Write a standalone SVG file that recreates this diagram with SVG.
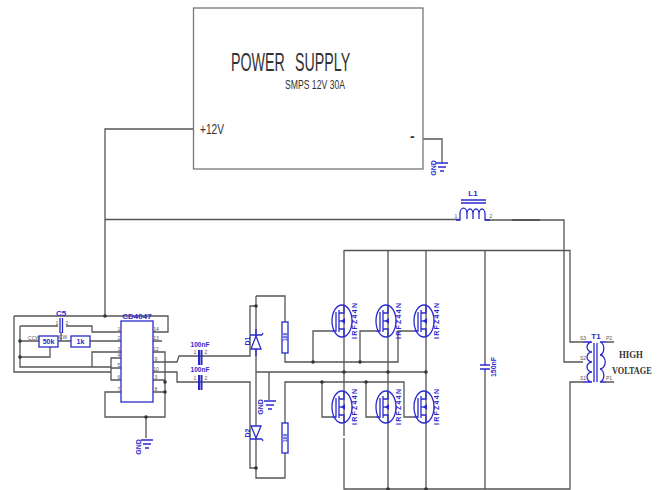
<svg xmlns="http://www.w3.org/2000/svg" xmlns:xlink="http://www.w3.org/1999/xlink" width="662" height="490" viewBox="0 0 662 490">
<style>
.w{fill:none;stroke:#555;stroke-width:1.3}
.b{fill:none;stroke:#2a2acb;stroke-width:1.3}
.bw{fill:#fff;stroke:#2a2acb;stroke-width:1.3}
.d{fill:#333}
text{font-family:"Liberation Sans",Arial,sans-serif}
.lbl{fill:#2a2acb;font-size:7px;font-weight:bold;text-anchor:middle}
.pin{fill:#555;font-size:5px;text-anchor:middle}
.k{fill:#333}
.hv{font-family:"Liberation Serif","Times New Roman",serif;font-weight:bold;font-size:11px;fill:#333}
</style>
<defs>
<g id="mos">
<ellipse class="b" cx="0" cy="0" rx="10" ry="16"/>
<path class="b" d="M-10 10H-6V-9M-3 -11V11M-3 -8H2V-16M-3 8H2V16"/>
<path d="M3 -3L-1 0L3 3Z" fill="#2a2acb"/><path class="b" d="M-3 0H2"/>
</g>
<g id="gnd"><path class="b" d="M-6 0H6M-4 4H4M-2 8H2"/></g>
</defs>
<rect width="662" height="490" fill="#fff"/>

<g id="connectors">
<path class="w" d="M193 129H105V317"/>
<path class="w" d="M423 139H442V163"/>
<path class="w" d="M105 219.500H460M485 220H564V362H583"/>
<path class="w" style="stroke-width:2" d="M512 220H540"/>
<path class="w" d="M344 250.500H570V342H583"/>
<path class="w" d="M583 382H570V489H344V438M344 250V436M388 250V489M426 250V489"/>
<path class="w" d="M485 250V362M485 372V489"/>
<path class="w" d="M14 316H168V332H153M14 316V372H111M20 326H58M66 326H92V332H121"/>
<path class="w" d="M20 326V367H111V358H121M111 367V380H121M111 368H121"/>
<path class="w" d="M20 341H39M20 357H50V347M58 341H71M61 332V341M90 341H121M121 352H92V367"/>
<path class="w" d="M153 341H162M153 352H165V417H105V392H121M153 380H165M153 392H165M146 417V438"/>
<path class="w" d="M153 362H177L179 356H250V306H256M153 372H177V382H250V468H256"/>
<path class="w" d="M256 296H285V322M285 353V362H398V331H414M313 362V331H332M360 362V331H376"/>
<path class="w" d="M256 296V478H285V453M285 423V382H404V417H414M322 382V417H332M366 382V417H376"/>
<path class="w" d="M256 372H426M269 372V400"/>
<g class="d">
<circle cx="105" cy="316" r="1.800"/><circle cx="20" cy="341" r="1.800"/><circle cx="20" cy="357" r="1.800"/>
<circle cx="165" cy="382" r="1.800"/><circle cx="165" cy="392" r="1.800"/><circle cx="146" cy="417" r="1.800"/>
<circle cx="313" cy="362" r="1.800"/><circle cx="360" cy="362" r="1.800"/><circle cx="344" cy="372" r="1.800"/><circle cx="388" cy="372" r="1.800"/><circle cx="426" cy="372" r="1.800"/>
<circle cx="322" cy="382" r="1.800"/><circle cx="366" cy="382" r="1.800"/><circle cx="256" cy="306" r="1.800"/><circle cx="256" cy="468" r="1.800"/>
<circle cx="388" cy="489" r="1.800"/><circle cx="426" cy="489" r="1.800"/>
</g>
</g>

<g id="power-supply">
<rect x="193.500" y="8" width="229.500" height="161" fill="#fff" stroke="#777" stroke-width="1.300"/>
<text class="k" font-size="25" word-spacing="11" transform="translate(231 71) scale(.57 1)">POWER SUPPLY</text>
<text class="k" x="285" y="89" font-size="13" textLength="60" lengthAdjust="spacingAndGlyphs">SMPS 12V 30A</text>
<text class="k" x="200" y="134" font-size="15" textLength="24" lengthAdjust="spacingAndGlyphs">+12V</text>
<text class="k" x="410" y="141" font-size="14" font-weight="bold">-</text>
</g>
<g id="gnd-supply">
<use xlink:href="#gnd" href="#gnd" x="442" y="163"/>
<text class="lbl" transform="translate(436 168) rotate(-90)">GND</text>
</g>
<g id="L1">
<path class="b" d="M461 200H486M461 203H486"/>
<path class="b" d="M456 220H460V214A3 5 0 0 1 467 214V219V214A3 5 0 0 1 473 214V219V214A3 5 0 0 1 479 214V219V214A3 5 0 0 1 485 214V220H490"/>
<text class="lbl" x="473" y="196" style="font-size:8px">L1</text>
<text class="pin" x="456" y="218">1</text><text class="pin" x="491" y="218">2</text>
</g>
<g id="C5">
<path class="b" d="M60 318V333M62.500 318V333"/>
<text class="lbl" x="61" y="316" style="font-size:8px">C5</text>
<text class="pin" x="57" y="325">1</text><text class="pin" x="67" y="325">2</text>
</g>
<g id="R-50k">
<rect class="bw" x="39" y="336" width="19" height="11"/>
<text class="lbl" x="48.500" y="344">50k</text>
<text class="pin" x="34" y="340">CCW</text><text class="pin" x="63" y="339">CW</text>
</g>
<g id="R-1k">
<rect class="bw" x="71" y="336" width="19" height="11"/>
<text class="lbl" x="80.500" y="344">1k</text>
</g>
<g id="CD4047">
<rect class="bw" x="121" y="321" width="32" height="81"/>
<text class="lbl" x="137" y="319" style="font-size:8px">CD4047</text>
<g class="pin">
<text x="119" y="331">1</text><text x="119" y="340">2</text><text x="119" y="351">3</text><text x="119" y="357">4</text><text x="119" y="367">5</text><text x="119" y="379">6</text><text x="119" y="391">7</text>
<text x="156" y="331">14</text><text x="156" y="340">13</text><text x="156" y="351">12</text><text x="156" y="361">9</text><text x="156" y="371">10</text><text x="156" y="379">3</text><text x="156" y="391">8</text>
</g>
</g>
<g id="gnd-ic">
<use xlink:href="#gnd" href="#gnd" x="147" y="440"/>
<text class="lbl" transform="translate(141 447) rotate(-90)">GND</text>
</g>
<g id="C-100nF-1">
<path class="b" style="stroke-width:2" d="M199 350V365M201.500 350V365"/>
<text class="lbl" x="200" y="347" style="font-size:6.500px">100nF</text>
<text class="pin" x="195" y="354">1</text><text class="pin" x="206" y="354">2</text>
</g>
<g id="C-100nF-2">
<path class="b" style="stroke-width:2" d="M199 375V390M201.500 375V390"/>
<text class="lbl" x="200" y="372" style="font-size:6.500px">100nF</text>
<text class="pin" x="195" y="380">1</text><text class="pin" x="206" y="380">2</text>
</g>
<g id="D1">
<path class="bw" d="M256 336L251 349H261Z"/><path class="b" d="M250 335H262M262 335L263 333M256 329V336M256 349V356"/>
<text class="lbl" transform="translate(250 341) rotate(-90)">D1</text>
</g>
<g id="D2">
<path class="bw" d="M256 438L251 426H261Z"/><path class="b" d="M250 439H262M262 439L263 441"/>
<text class="lbl" transform="translate(250 433) rotate(-90)">D2</text>
</g>
<g id="R-100-1">
<rect class="bw" x="282" y="322" width="6" height="31"/>
<text class="lbl" style="font-size:5px" transform="translate(287 337) rotate(-90)">100</text>
</g>
<g id="R-100-2">
<rect class="bw" x="282" y="423" width="6" height="30"/>
<text class="lbl" style="font-size:5px" transform="translate(287 438) rotate(-90)">100</text>
</g>
<g id="gnd-mid">
<use xlink:href="#gnd" href="#gnd" x="270" y="401"/>
<text class="lbl" transform="translate(263 407) rotate(-90)">GND</text>
</g>
<g id="Q1"><use xlink:href="#mos" href="#mos" x="342" y="321"/><text class="lbl" textLength="36" transform="translate(357 321) rotate(-90)">IRFZ44N</text></g>
<g id="Q2"><use xlink:href="#mos" href="#mos" x="386" y="321"/><text class="lbl" textLength="36" transform="translate(401 321) rotate(-90)">IRFZ44N</text></g>
<g id="Q3"><use xlink:href="#mos" href="#mos" x="424" y="321"/><text class="lbl" textLength="36" transform="translate(439 321) rotate(-90)">IRFZ44N</text></g>
<g id="Q4"><use xlink:href="#mos" href="#mos" x="342" y="407"/><text class="lbl" textLength="36" transform="translate(357 407) rotate(-90)">IRFZ44N</text></g>
<g id="Q5"><use xlink:href="#mos" href="#mos" x="386" y="407"/><text class="lbl" textLength="36" transform="translate(401 407) rotate(-90)">IRFZ44N</text></g>
<g id="Q6"><use xlink:href="#mos" href="#mos" x="424" y="407"/><text class="lbl" textLength="36" transform="translate(439 407) rotate(-90)">IRFZ44N</text></g>
<g id="C-150nF">
<path class="b" d="M480 365H490M480 369H490M485 362V365M485 369V372"/>
<text class="lbl" transform="translate(496 367) rotate(-90)">150nF</text>
</g>
<g id="T1">
<path class="b" d="M594 343V382M597 343V382"/>
<path class="b" d="M583 342H592A5 5 0 0 0 592 352A5 5 0 0 0 592 362A5 5 0 0 0 592 372A5 5 0 0 0 592 382H583"/>
<path class="b" d="M606 342H600A5 6.700 0 0 1 600 355A5 6.700 0 0 1 600 369A5 6.700 0 0 1 600 382H606"/>
<path class="w" d="M606 342H614M606 382H614"/>
<text class="lbl" x="596" y="339" style="font-size:8px">T1</text>
<text class="pin" x="583" y="340">S3</text><text class="pin" x="583" y="360">S2</text><text class="pin" x="583" y="380">S1</text>
<text class="pin" x="609" y="340">P2</text><text class="pin" x="609" y="380">P1</text>
</g>
<g id="high-voltage">
<text class="hv" transform="translate(619 358) scale(.8 1)">HIGH</text>
<text class="hv" transform="translate(612 374) scale(.75 1)">VOLTAGE</text>
</g>
</svg>
